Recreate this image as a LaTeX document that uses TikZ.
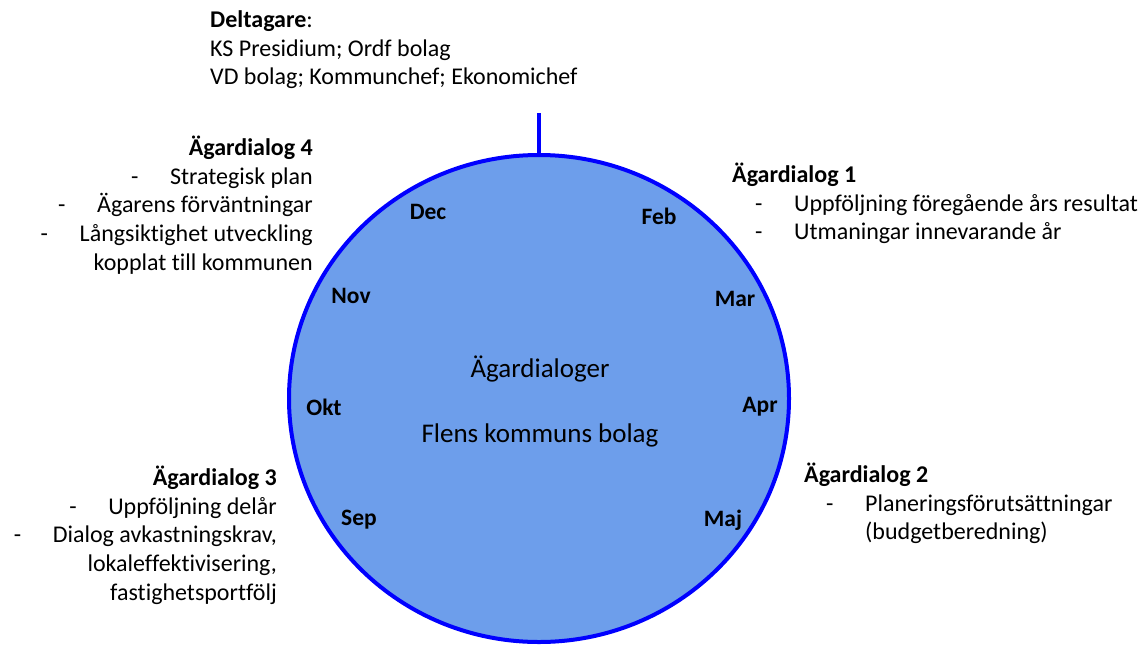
\documentclass[tikz,border=0pt]{standalone}
\usepackage{fontspec}
\setmainfont{Carlito}[Ligatures=NoCommon]
\usetikzlibrary{positioning,shapes.geometric}

\definecolor{wheelfill}{RGB}{109,158,235}
\definecolor{wheelline}{RGB}{0,0,255}
\newcommand{\punkt}[1]{\makebox[39pt][l]{-}#1}

\begin{document}
\begin{tikzpicture}[x=1pt,y=-1pt,%
    txt/.style={font=\fontsize{24}{28.8}\selectfont,inner sep=0pt},%
    block/.style={txt,align=#1},%
    centre/.style={font=\fontsize{27}{32}\selectfont,inner sep=0pt},%
    month/.style={font=\fontsize{23.5}{28}\selectfont\bfseries,inner sep=0pt}]
  \useasboundingbox (0,0) rectangle (1141,646);
  % the year wheel
  \node (wheel) [ellipse,draw=wheelline,fill=wheelfill,line width=4pt,%
    minimum width=500pt,minimum height=487pt,inner sep=0pt] at (539,398.5) {};
  \coordinate (tick) at (539,113);
  \draw [wheelline,line width=4pt] (wheel.north) -- (tick);
  \node (title) [centre] at (540,369) {Ägardialoger};
  \node (owner) [centre] at (540,435) {Flens kommuns bolag};
  % months
  \node (dec) [month] at (428,212) {Dec};
  \node (feb) [month] at (659,216) {Feb};
  \node (nov) [month] at (351,296) {Nov};
  \node (mar) [month] at (735,299) {Mar};
  \node (okt) [month] at (324,407) {Okt};
  \node (apr) [month] at (760,407) {Apr};
  \node (sep) [month] at (359,520) {Sep};
  \node (maj) [month] at (723,520) {Maj};
  % participants and dialogues
  \node (deltagare) [block=left,anchor=north west] at (210,7)
    {\strut\textbf{Deltagare}:\\ KS Presidium; Ordf bolag\\ VD bolag; Kommunchef; Ekonomichef};
  \node (dialog4) [block=right,anchor=north east] at (313,135)
    {\strut\textbf{Ägardialog 4}\\ \punkt{Strategisk plan}\\ \punkt{Ägarens förväntningar}\\
     \punkt{Långsiktighet utveckling}\\ kopplat till kommunen};
  \node (dialog1) [block=left,anchor=north west] at (732,162)
    {\strut\textbf{Ägardialog 1}\\ \hspace{23pt}\punkt{Uppföljning föregående års resultat}\\
     \hspace{23pt}\punkt{Utmaningar innevarande år}};
  \node (dialog2) [block=left,anchor=north west] at (804,462)
    {\strut\textbf{Ägardialog 2}\\ \hspace{22pt}\punkt{Planeringsförutsättningar}\\
     \hspace{61pt}(budgetberedning)};
  \node (dialog3) [block=right,anchor=north east] at (277,465)
    {\strut\textbf{Ägardialog 3}\\ \punkt{Uppföljning delår}\\ \punkt{Dialog avkastningskrav,}\\
     lokaleffektivisering,\\ fastighetsportfölj};
\end{tikzpicture}
\end{document}
